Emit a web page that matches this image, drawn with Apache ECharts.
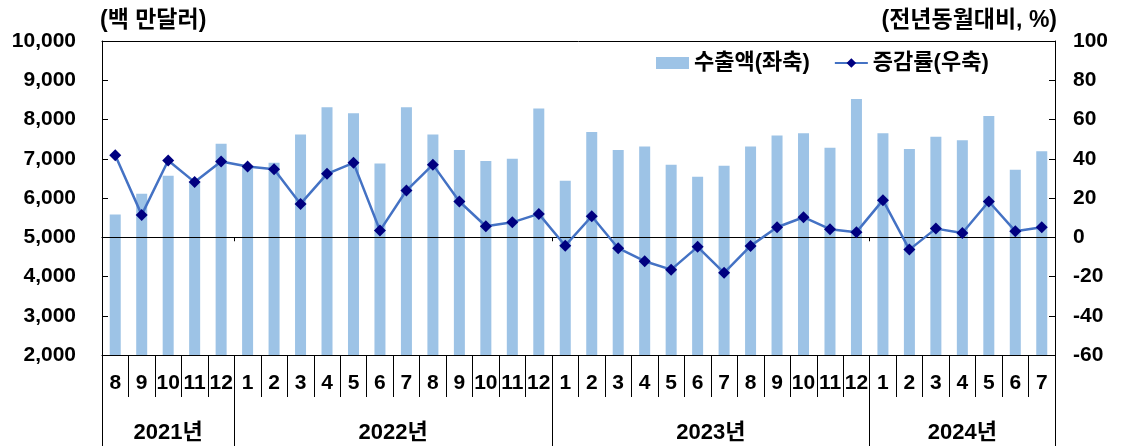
<!DOCTYPE html>
<html>
<head>
<meta charset="utf-8">
<script src="https://cdn.jsdelivr.net/npm/echarts@6/dist/echarts.min.js"></script>
<style>
  html, body { margin: 0; padding: 0; background: #fff; }
  #chart { width: 1121px; height: 446px; }
</style>
</head>
<body>
<div id="chart"></div>
<script>
// month labels, 2021-8 ~ 2024-7
const months = ['8', '9', '10', '11', '12',
  '1', '2', '3', '4', '5', '6', '7', '8', '9', '10', '11', '12',
  '1', '2', '3', '4', '5', '6', '7', '8', '9', '10', '11', '12',
  '1', '2', '3', '4', '5', '6', '7'];
const years = ['2021년', '2022년', '2023년', '2024년'];
const monthsPerYear = [5, 12, 12, 7];

// 수출액 (백만달러)
const exportValues = [5580, 6110, 6570, 6400, 7380,
  6800, 6900, 7620, 8310, 8160, 6880, 8310, 7620, 7220, 6940, 7000, 8280,
  6440, 7680, 7220, 7310, 6850, 6540, 6820, 7310, 7590, 7650, 7280, 8520,
  7650, 7250, 7560, 7470, 8090, 6720, 7190];

// 증감률 (전년동월대비, %)
const growthRates = [41.8, 11.4, 39.1, 28.1, 38.6,
  36.0, 34.7, 17.0, 32.3, 37.9, 3.4, 23.8, 37.0, 18.2, 5.6, 7.6, 11.9,
  -4.3, 10.7, -5.6, -12.2, -16.5, -4.9, -18.1, -4.4, 5.1, 10.2, 4.1, 2.6,
  18.9, -6.3, 4.4, 2.2, 18.2, 3.1, 5.1];

const FONT = '"Liberation Sans", Arial, "Noto Sans CJK KR", sans-serif';
const NUM_SIZE = 21;
const KO_SIZE = 22;

// year axis: half-month points, boundaryGap false
const yearBounds = [0];
monthsPerYear.forEach(n => yearBounds.push(yearBounds[yearBounds.length - 1] + n));
const halfCount = yearBounds[yearBounds.length - 1] * 2 + 1;
const yearAxisData = Array.from({ length: halfCount }, () => '');
years.forEach((y, i) => {
  yearAxisData[yearBounds[i] + yearBounds[i + 1]] = y;
});
const yearTickIdx = yearBounds.map(b => b * 2);
const innerBounds = yearBounds.slice(1, -1);

const chart = echarts.init(document.getElementById('chart'));

chart.setOption({
  animation: false,
  textStyle: { fontFamily: FONT, fontWeight: 'bold', color: '#000' },
  grid: {
    left: 102, right: 66, top: 41, bottom: 91,
    show: false
  },
  legend: {
    left: 651, top: 47,
    itemWidth: 33, itemHeight: 12, itemGap: 24,
    textStyle: { fontSize: KO_SIZE, fontWeight: 'bold', fontFamily: FONT, color: '#000' },
    data: [
      { name: '수출액(좌축)', icon: 'rect' },
      { name: '증감률(우축)' }
    ]
  },
  xAxis: [
    {
      type: 'category',
      position: 'bottom',
      data: months,
      boundaryGap: true,
      axisLine: { show: true, onZero: false, lineStyle: { color: '#000', width: 1 } },
      axisTick: { show: true, interval: 0, length: 42, lineStyle: { color: '#000', width: 1 } },
      axisLabel: { interval: 0, margin: 18, fontSize: NUM_SIZE, fontWeight: 'bold', fontFamily: FONT, color: '#000' }
    },
    {
      // top frame line
      type: 'category',
      position: 'top',
      data: months,
      axisLine: { show: true, onZero: false, lineStyle: { color: '#000', width: 1 } },
      axisTick: { show: false },
      axisLabel: { show: false }
    },
    {
      type: 'category',
      position: 'bottom',
      data: yearAxisData,
      boundaryGap: false,
      axisLine: { show: false, onZero: false },
      axisTick: {
        show: true, length: 91,
        interval: (idx) => yearTickIdx.includes(idx),
        lineStyle: { color: '#000', width: 1 }
      },
      axisLabel: {
        interval: (idx, val) => val !== '',
        margin: 67, fontSize: KO_SIZE, fontWeight: 'bold', fontFamily: FONT, color: '#000'
      }
    },
    {
      // zero line of the right axis, small ticks at year boundaries
      type: 'category',
      position: 'bottom',
      data: months,
      boundaryGap: true,
      axisLine: { show: true, onZero: true, onZeroAxisIndex: 1, lineStyle: { color: '#000', width: 1 } },
      axisTick: {
        show: true, length: 4,
        interval: (idx) => innerBounds.includes(idx),
        lineStyle: { color: '#000', width: 1 }
      },
      axisLabel: { show: false }
    }
  ],
  yAxis: [
    {
      type: 'value',
      min: 2000, max: 10000, interval: 1000,
      name: '(백 만달러)',
      nameLocation: 'end',
      nameGap: 9,
      nameTextStyle: { align: 'left', fontSize: 23, fontWeight: 'bold', fontFamily: FONT, color: '#000', padding: [0, 0, 0, -2] },
      axisLine: { show: true, lineStyle: { color: '#000' } },
      axisTick: { show: true, inside: true, length: 6, lineStyle: { color: '#000' } },
      splitLine: { show: false },
      axisLabel: {
        margin: 26, fontSize: NUM_SIZE, fontWeight: 'bold', fontFamily: FONT, color: '#000',
        formatter: v => v.toLocaleString('en-US')
      }
    },
    {
      type: 'value',
      min: -60, max: 100, interval: 20,
      position: 'right',
      name: '(전년동월대비, %)',
      nameLocation: 'end',
      nameGap: 9,
      nameTextStyle: { align: 'right', fontSize: 23, fontWeight: 'bold', fontFamily: FONT, color: '#000', padding: [0, -2, 0, 0] },
      axisLine: { show: true, lineStyle: { color: '#000' } },
      axisTick: { show: true, inside: true, length: 6, lineStyle: { color: '#000' } },
      splitLine: { show: false },
      axisLabel: { margin: 18, fontSize: NUM_SIZE, fontWeight: 'bold', fontFamily: FONT, color: '#000' }
    }
  ],
  series: [
    {
      name: '수출액(좌축)',
      type: 'bar',
      xAxisIndex: 0,
      yAxisIndex: 0,
      data: exportValues,
      barWidth: 11,
      itemStyle: { color: '#9DC3E6' }
    },
    {
      name: '증감률(우축)',
      type: 'line',
      xAxisIndex: 3,
      yAxisIndex: 1,
      data: growthRates,
      symbol: 'diamond',
      symbolSize: 12,
      lineStyle: { color: '#4472C4', width: 2.5 },
      itemStyle: { color: '#000080' },
      z: 5,
      markLine: {
        silent: true,
        symbol: 'none',
        label: { show: false },
        lineStyle: { color: '#000', width: 1, type: 'solid' },
        data: [{ yAxis: 0 }]
      }
    }
  ]
});
</script>
</body>
</html>
